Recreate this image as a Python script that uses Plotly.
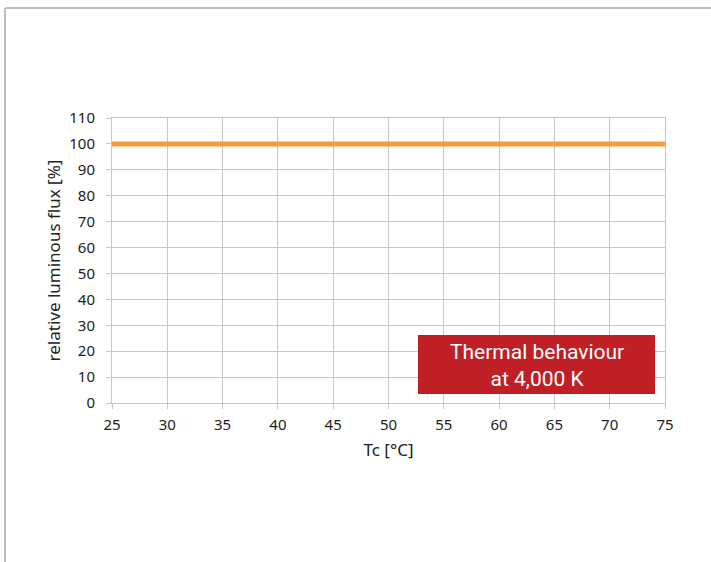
import plotly.graph_objects as go

temperature_c = [25, 30, 35, 40, 45, 50, 55, 60, 65, 70, 75]
relative_flux = [100, 100, 100, 100, 100, 100, 100, 100, 100, 100, 100]
x_ticks = [25, 30, 35, 40, 45, 50, 55, 60, 65, 70, 75]
y_ticks = [0, 10, 20, 30, 40, 50, 60, 70, 80, 90, 100, 110]

L, R, T, B = 112, 665, 118, 403
W, H = 711, 562
pw, ph = R - L, B - T

def px(xp):
    return (xp - L) / pw

def py(yp):
    return (B - yp) / ph

fig = go.Figure()
fig.add_trace(go.Scatter(
    x=temperature_c, y=relative_flux, mode="lines",
    line=dict(color="#F7993A", width=5), showlegend=False, hoverinfo="skip"
))

FONT = "Noto Sans, Liberation Sans, Arial, sans-serif"
tickfont = dict(family=FONT, size=15, color="#222222")
grid = "#C6C6C6"

fig.update_layout(
    width=W, height=H,
    margin=dict(l=L, r=W - R, t=T, b=H - B),
    paper_bgcolor="white", plot_bgcolor="white",
    xaxis=dict(
        range=[25, 75], tickvals=x_ticks, ticks="outside", ticklen=5,
        tickcolor=grid, showgrid=True, gridcolor=grid, gridwidth=1,
        showline=True, linecolor=grid, linewidth=1, mirror=True,
        zeroline=False, tickfont=tickfont, ticklabelstandoff=3,
        title=dict(text="Tc [°C]", font=dict(family=FONT, size=17, color="#222222"), standoff=11),
    ),
    yaxis=dict(
        range=[0, 110], tickvals=y_ticks, ticks="outside", ticklen=5,
        tickcolor=grid, showgrid=True, gridcolor=grid, gridwidth=1,
        showline=True, linecolor=grid, linewidth=1, mirror=True,
        zeroline=False, tickfont=tickfont, ticklabelstandoff=8,
        title=dict(text="relative luminous flux [%]", font=dict(family=FONT, size=17, color="#222222"), standoff=4),
    ),
    shapes=[
        dict(type="line", xref="paper", yref="paper", x0=px(5), x1=px(5), y0=py(8), y1=py(600),
             line=dict(color="#BDBDBD", width=2)),
        dict(type="line", xref="paper", yref="paper", x0=px(5), x1=px(720), y0=py(8), y1=py(8),
             line=dict(color="#BDBDBD", width=2)),
        dict(type="rect", xref="paper", yref="paper", x0=px(418), x1=px(655), y0=py(394), y1=py(335),
             fillcolor="#C01F26", line=dict(width=0), layer="above"),
    ],
    annotations=[
        dict(xref="paper", yref="paper", x=px(536.5), y=py(365), xanchor="center", yanchor="middle",
             text="Thermal behaviour<br>at 4,000 K", showarrow=False, align="center",
             font=dict(family="Roboto, DejaVu Sans, sans-serif", size=21, color="white")),
    ],
)

fig.write_html("out.html", config={"displayModeBar": False},
               post_script="document.body.style.margin='0';document.body.style.overflow='hidden';")
